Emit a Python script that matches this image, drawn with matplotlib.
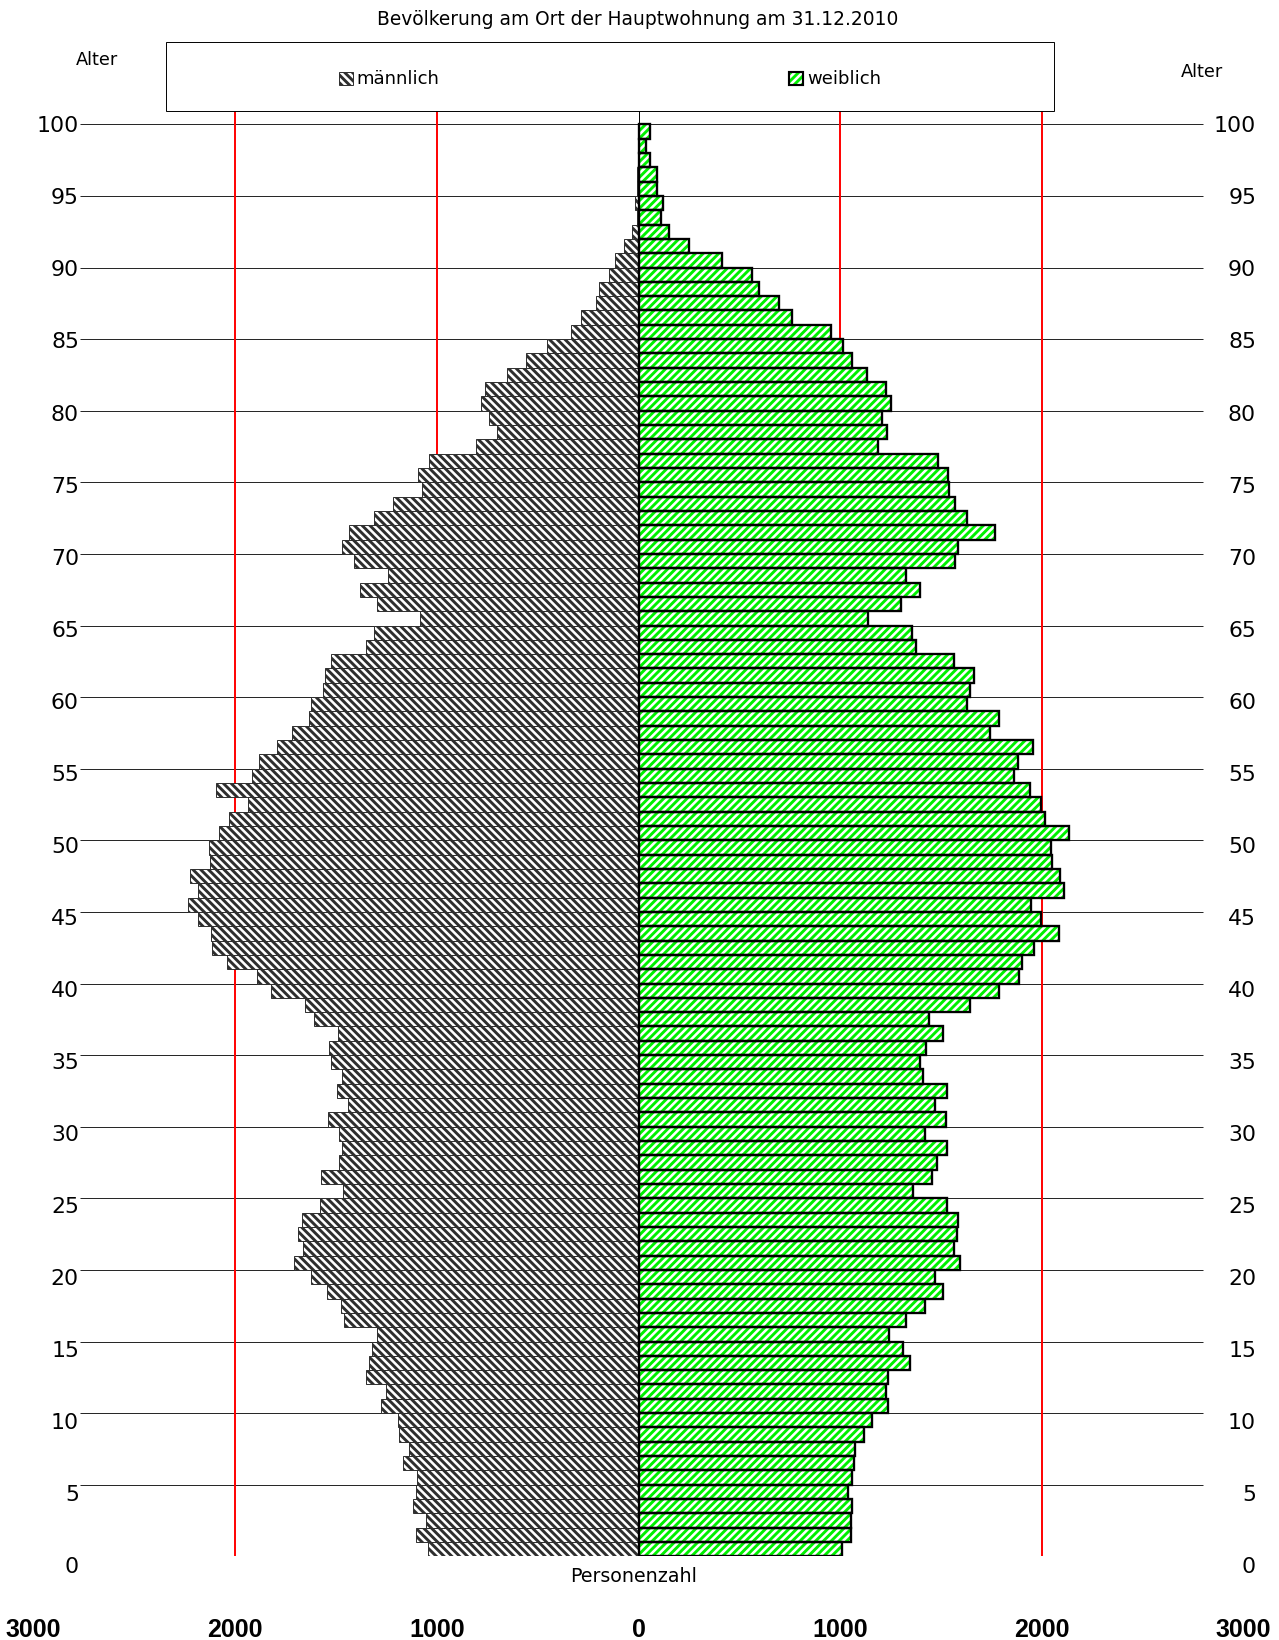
import numpy as np
import matplotlib
matplotlib.use("Agg")
import matplotlib.pyplot as plt
from matplotlib.patches import Rectangle
from matplotlib import transforms

W, H = 1279, 1640
DPI = 70

# population by single year of age (0 .. 99)
ages = np.arange(0, 100)
male = [
    1044, 1105, 1052, 1119, 1105, 1099, 1169, 1137, 1189, 1192,
    1276, 1253, 1352, 1337, 1323, 1299, 1460, 1474, 1544, 1622,
    1706, 1663, 1689, 1669, 1578, 1465, 1576, 1485, 1471, 1485,
    1541, 1439, 1497, 1468, 1526, 1535, 1491, 1608, 1654, 1820,
    1892, 2041, 2113, 2119, 2183, 2235, 2183, 2224, 2125, 2128,
    2078, 2029, 1936, 2093, 1916, 1884, 1791, 1718, 1634, 1622,
    1564, 1555, 1523, 1352, 1311, 1084, 1299, 1381, 1244, 1410,
    1471, 1436, 1311, 1215, 1076, 1093, 1038, 805, 703, 741,
    782, 762, 654, 558, 453, 334, 285, 209, 195, 145,
    116, 73, 32, 9, 17, 9, 9, 3, 3, 3,
]
female = [
    1009, 1052, 1055, 1058, 1038, 1058, 1070, 1076, 1116, 1157,
    1235, 1227, 1238, 1346, 1314, 1244, 1328, 1419, 1509, 1471,
    1596, 1564, 1581, 1584, 1532, 1363, 1453, 1480, 1529, 1419,
    1523, 1468, 1529, 1410, 1398, 1424, 1512, 1439, 1645, 1788,
    1887, 1901, 1962, 2084, 1997, 1948, 2108, 2090, 2049, 2047,
    2134, 2017, 1994, 1939, 1863, 1884, 1956, 1741, 1788, 1631,
    1642, 1663, 1564, 1378, 1358, 1140, 1302, 1398, 1326, 1567,
    1584, 1770, 1628, 1570, 1538, 1535, 1483, 1189, 1230, 1209,
    1250, 1227, 1134, 1061, 1015, 953, 762, 695, 596, 561,
    416, 250, 151, 110, 122, 90, 93, 58, 35, 58,
]

grid_ages = list(range(5, 101, 5))
label_ages = list(range(0, 101, 5))
bottom_ticks = [-3000, -2000, -1000, 0, 1000, 2000, 3000]
red_lines = [-2000, -1000, 1000, 2000]

title = "Bevölkerung am Ort der Hauptwohnung am 31.12.2010"

HATCH_LW = 3.0
plt.rcParams["hatch.linewidth"] = HATCH_LW


def fx(px):
    return px / W


def fy(py):
    return 1 - py / H


def thick_hatch(patches):
    for p in patches:
        if hasattr(p, "set_hatch_linewidth"):
            p.set_hatch_linewidth(HATCH_LW)


fig = plt.figure(figsize=(W / DPI, H / DPI), dpi=DPI)

# pixel frame of the plotting area
y_bottom, y_100, y_top = 1556.3, 124.3, 111.0
year_px = (y_bottom - y_100) / 100

ax = fig.add_axes([fx(33.5), fy(y_bottom), (1243.5 - 33.5) / W, (y_bottom - y_top) / H])
ax.set_xlim(-3000, 3000)
ax.set_ylim(0, (y_bottom - y_top) / year_px)
ax.axis("off")

ax.hlines(grid_ages, -2770, 2800, color="#222222", linewidth=1.0, zorder=1)
ax.vlines(red_lines, 0, (y_bottom - y_top) / year_px, color="red", linewidth=2.0, zorder=1.5)

m_bars = ax.barh(ages + 0.5, -np.array(male), height=1.0, color="white",
                 edgecolor="#2e2e2e", hatch="\\\\\\", linewidth=1.0, zorder=3)
f_bars = ax.barh(ages + 0.5, female, height=1.0, color="white",
                 edgecolor="#00f000", hatch="///", linewidth=0, zorder=3)
ax.barh(ages + 0.5, female, height=1.0, fill=False,
        edgecolor="black", linewidth=2.4, zorder=3.5)
thick_hatch(m_bars)
thick_hatch(f_bars)
ax.axvline(0, color="black", linewidth=1.0, zorder=4)

# age labels on both sides
lab_tr = transforms.blended_transform_factory(fig.transFigure, ax.transData)
for a in label_ages:
    yb = a - 0.09 * (100 - a) / year_px - 8 / year_px
    ax.text(fx(79), yb, str(a), transform=lab_tr, ha="right", va="baseline",
            fontsize=22.6, clip_on=False)
    ax.text(fx(1256), yb, str(a), transform=lab_tr, ha="right", va="baseline",
            fontsize=22.6, clip_on=False)

# bottom scale
bot_tr = transforms.blended_transform_factory(ax.transData, fig.transFigure)
for t in bottom_ticks:
    ax.text(t, fy(1637), str(abs(t)), transform=bot_tr, ha="center", va="baseline",
            fontsize=25.7, fontweight="bold", family="Liberation Sans", clip_on=False)

fig.text(fx(637.5), fy(25), title, ha="center", va="baseline", fontsize=19.2)
fig.text(fx(96.5), fy(65), "Alter", ha="center", va="baseline", fontsize=18.3)
fig.text(fx(1202), fy(77), "Alter", ha="center", va="baseline", fontsize=18.3)
fig.text(fx(634), fy(1582), "Personenzahl", ha="center", va="baseline", fontsize=19.5)

# legend box
fig.patches.append(Rectangle((fx(165.6), fy(111)), (1054 - 165.6) / W, (111 - 42.3) / H,
                             fill=False, edgecolor="black", linewidth=1.0,
                             transform=fig.transFigure, figure=fig))
leg_m = Rectangle((fx(339), fy(84.5)), 13.5 / W, 12 / H,
                  facecolor="white", edgecolor="#2e2e2e", hatch="\\\\\\",
                  linewidth=1.0, transform=fig.transFigure, figure=fig)
leg_f = Rectangle((fx(789.5), fy(84.5)), 13.5 / W, 12 / H,
                  facecolor="white", edgecolor="#00f000", hatch="///",
                  linewidth=0, transform=fig.transFigure, figure=fig)
thick_hatch([leg_m, leg_f])
fig.patches.extend([leg_m, leg_f])
fig.patches.append(Rectangle((fx(789.5), fy(84.5)), 13.5 / W, 12 / H,
                             fill=False, edgecolor="black", linewidth=2.2,
                             transform=fig.transFigure, figure=fig))
fig.text(fx(356.5), fy(84.3), "männlich", ha="left", va="baseline", fontsize=18.5)
fig.text(fx(807.5), fy(84.3), "weiblich", ha="left", va="baseline", fontsize=18.5)

fig.savefig("out.png", dpi=DPI, facecolor="white")
